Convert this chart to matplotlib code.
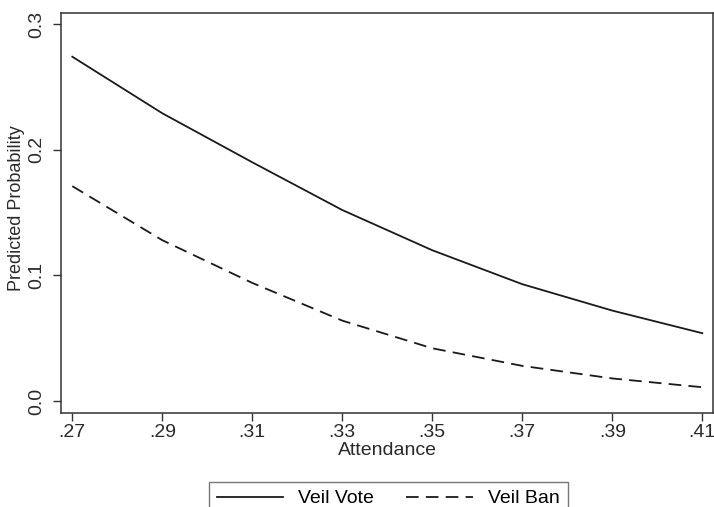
import matplotlib.pyplot as plt
import numpy as np

plt.rcParams["font.family"] = ["Liberation Sans", "DejaVu Sans"]

attendance = [0.27, 0.29, 0.31, 0.33, 0.35, 0.37, 0.39, 0.41]
veil_vote = [0.274, 0.229, 0.190, 0.152, 0.120, 0.093, 0.072, 0.054]
veil_ban = [0.171, 0.128, 0.094, 0.064, 0.042, 0.028, 0.018, 0.011]

x_ticks = [0.27, 0.29, 0.31, 0.33, 0.35, 0.37, 0.39, 0.41]
x_labels = [".27", ".29", ".31", ".33", ".35", ".37", ".39", ".41"]
y_ticks = [0.0, 0.1, 0.2, 0.3]
y_labels = ["0.0", "0.1", "0.2", "0.3"]

fs = 14

fig = plt.figure(figsize=(7.14, 5.07), dpi=100)
ax = fig.add_axes([0.085, 0.1854, 0.9136, 0.789])

ax.plot(attendance, veil_vote, color="#1a1a1a", lw=1.3, label="Veil Vote")
ax.plot(attendance, veil_ban, color="#1a1a1a", lw=1.3, dashes=(7, 4), label="Veil Ban")

ax.set_xlim(0.26742, 0.41238)
ax.set_ylim(-0.0095, 0.3088)
ax.set_xticks(x_ticks, x_labels)
ax.set_yticks(y_ticks, y_labels)
for lab in ax.get_yticklabels():
  lab.set_rotation(90)
  lab.set_va("center")

ax.tick_params(direction="out", length=6, width=1, colors="#333333", labelsize=fs, labelcolor="#2a2a2a")
ax.tick_params(axis="x", pad=2)
ax.tick_params(axis="y", pad=5)
for s in ax.spines.values():
  s.set_color("#333333")
  s.set_linewidth(1.1)

ax.set_xlabel("Attendance", fontsize=fs, color="#2a2a2a")
ax.set_ylabel("Predicted Probability", fontsize=13, color="#2a2a2a")
ax.xaxis.set_label_coords(0.501, -0.072)
ax.yaxis.set_label_coords(-0.0547, 0.5125)

leg = fig.legend(loc="upper left", bbox_to_anchor=(209/714, 1 - 482/507), ncol=2,
                 fontsize=fs, frameon=True, fancybox=False, edgecolor="#555555",
                 handlelength=3.4, columnspacing=1.65, borderpad=0.4, handletextpad=0.8,
                 borderaxespad=0)
leg.get_frame().set_linewidth(1.0)

fig.savefig("out.png", dpi=100)
